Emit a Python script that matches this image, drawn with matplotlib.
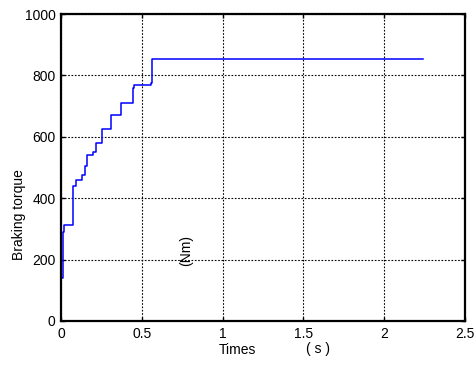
import matplotlib
matplotlib.use("Agg")
import matplotlib.pyplot as plt

# step data: time (s), braking torque (Nm)
times = [0.0, 0.003, 0.012, 0.019, 0.072, 0.076, 0.093, 0.13, 0.148, 0.158, 0.200, 0.214, 0.252, 0.309, 0.369, 0.443, 0.452, 0.560, 0.566, 2.24]
torque = [0, 140, 290, 314, 360, 440, 458, 477, 506, 540, 549, 580, 627, 670, 709, 760, 768, 775, 853, 853]

xticks = [0, 0.5, 1, 1.5, 2, 2.5]
xticklabels = ["0", "0.5", "1", "1.5", "2", "2.5"]
yticks = [0, 200, 400, 600, 800, 1000]
yticklabels = ["0", "200", "400", "600", "800", "1000"]

plt.rcParams['font.family'] = ['Liberation Sans', 'DejaVu Sans']
fig = plt.figure(figsize=(4.75, 3.65), dpi=100)
ax = fig.add_axes([61/475, 1-321/365, (465-61)/475, (321-14)/365])

ax.step(times, torque, where='post', color='#0000ff', lw=1.1)
ax.set_xlim(0, 2.5)
ax.set_ylim(0, 1000)
ax.set_xticks(xticks)
ax.set_xticklabels(xticklabels)
ax.set_yticks(yticks)
ax.set_yticklabels(yticklabels)
ax.grid(True, color='black', linestyle=(0, (1.5, 1.5)), lw=0.8)
ax.tick_params(direction='in', top=True, right=True, labelsize=10, length=3, width=1, colors='black')
ax.tick_params(axis='x', pad=4)
ax.tick_params(axis='y', pad=4)
for s in ax.spines.values():
    s.set_linewidth(1.6)

fig.text(19/475, 1-215/365, "Braking torque", rotation=90, ha='center', va='center', fontsize=10)
fig.text(237/475, 1-350/365, "Times", ha='center', va='center', fontsize=10)
fig.text(318/475, 1-349/365, "( s )", ha='center', va='center', fontsize=10)
fig.text(186/475, 1-250/365, "(Nm)", rotation=90, ha='center', va='center', fontsize=10)

fig.savefig("out.png", dpi=100)
